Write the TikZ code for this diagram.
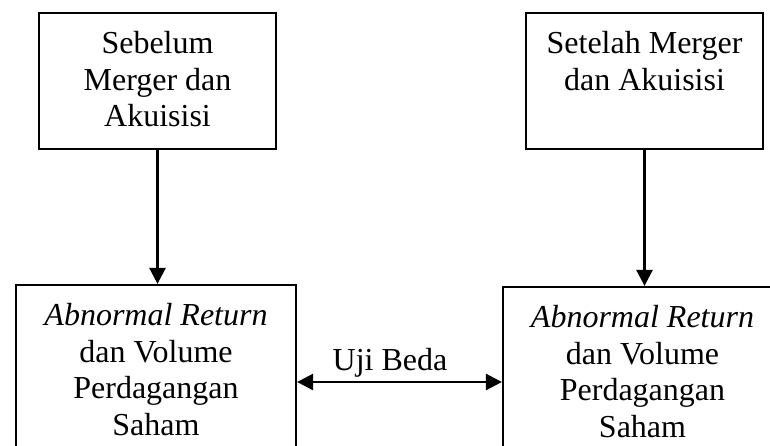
\documentclass[tikz,border=0pt]{standalone}
\usepackage{fontspec}
\setmainfont{Liberation Serif}
\usetikzlibrary{arrows.meta}
\begin{document}
\begin{tikzpicture}[x=1pt,y=-1pt,
  box/.style={draw, line width=2.2pt, rectangle, inner sep=0pt},
  txt/.style={align=center, inner sep=0pt, anchor=north, font=\fontsize{32}{36.8}\selectfont},
  arr/.style={line width=2.5pt, -{Triangle[length=16pt,width=16pt]}},
  darr/.style={line width=2.5pt, {Triangle[length=16pt,width=16pt]}-{Triangle[length=16pt,width=16pt]}}
]
\path[use as bounding box] (0,0) rectangle (770,445);
\clip (0,0) rectangle (770,445);
% boxes
\node[box, minimum width=237pt, minimum height=136pt] (b1) at (157.5,81) {};
\node[box, minimum width=237pt, minimum height=136pt] (b2) at (644.5,81) {};
\node[box, minimum width=280pt, minimum height=180pt] (b3) at (156,375) {};
\node[box, minimum width=279pt, minimum height=180pt] (b4) at (642.5,377) {};
% texts
\node[txt] (t1) at (157.5,27.24) {\strut Sebelum\\Merger dan\\Akuisisi};
\node[txt] (t2) at (644.5,27.24) {\strut Setelah Merger\\dan Akuisisi};
\node[txt] (t3) at (156,299.24) {\strut\textit{Abnormal Return}\\dan Volume\\Perdagangan\\Saham};
\node[txt] (t4) at (642.5,301.24) {\strut\textit{Abnormal Return}\\dan Volume\\Perdagangan\\Saham};
% connectors
\draw[arr] (b1.south) -- (b1.south |- b3.north);
\draw[arr] (b2.south) -- (b2.south |- b4.north);
\coordinate (m) at (400,382);
\draw[darr] (b3.east |- m) -- (b4.west |- m);
\node[anchor=base, inner sep=0pt, font=\fontsize{32}{36.8}\selectfont] (uji) at (390,370) {Uji Beda};
\end{tikzpicture}
\end{document}
